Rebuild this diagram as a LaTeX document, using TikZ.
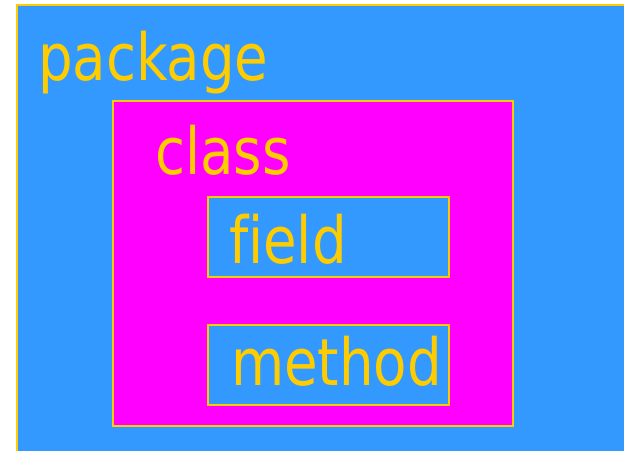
\documentclass[tikz,border=0pt]{standalone}
\usepackage{fontspec}
\setmainfont[FakeStretch=0.84,Ligatures=NoCommon]{DejaVu Sans}
\definecolor{pkgblue}{HTML}{3399FF}
\definecolor{clsmag}{HTML}{FF00FF}
\definecolor{lblyel}{HTML}{FFCC00}
\tikzset{
  box/.style={draw=lblyel, line width=2.2pt, anchor=north west, inner sep=0pt, outer sep=0pt},
  lbl/.style={text=lblyel, anchor=base west, inner sep=0pt, outer sep=0pt, font=\fontsize{65}{70}\selectfont}
}
\begin{document}
\begin{tikzpicture}[x=1pt,y=-1pt]
\useasboundingbox (0,0) rectangle (624,450);
\clip (0,0) rectangle (624,450);
\fill[white] (0,0) rectangle (624,450);
\node[box, fill=pkgblue, minimum width=620pt, minimum height=460pt] (pkg) at (17,5) {};
\node[box, fill=clsmag, minimum width=400pt, minimum height=325pt] (cls) at (113,101) {};
\node[box, fill=pkgblue, minimum width=241pt, minimum height=80pt] (fld) at (208,197) {};
\node[box, fill=pkgblue, minimum width=241pt, minimum height=80pt] (mth) at (208,325) {};
\node[lbl] (tpkg) at (38,80) {package};
\node[lbl] (tcls) at (155,174) {class};
\node[lbl] (tfld) at (229,263) {field};
\node[lbl] (tmth) at (231,385) {method};
\end{tikzpicture}
\end{document}
